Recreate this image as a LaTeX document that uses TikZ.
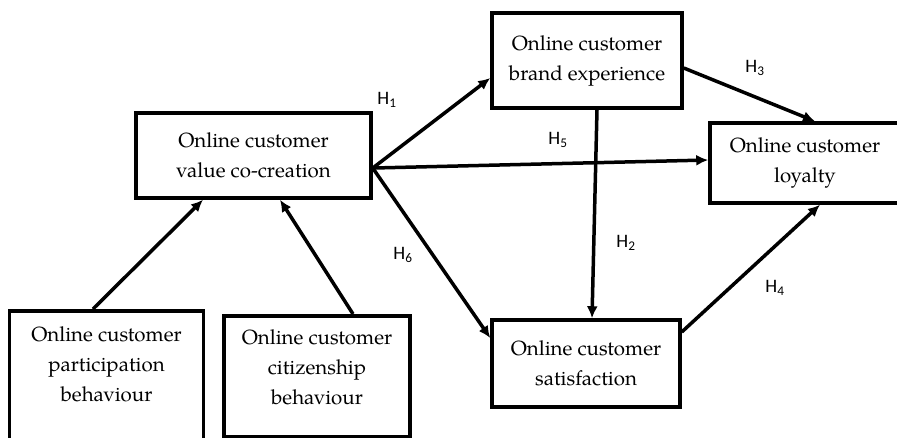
\documentclass[tikz,border=0pt]{standalone}
\usepackage{fontspec}
\newfontfamily\hfont{Carlito}
\newfontfamily\pfont{texgyrepagella-regular.otf}
\usepackage{tikz}
\usetikzlibrary{arrows.meta,calc,positioning}
\tikzset{
  box/.style={draw, line width=3.5pt, align=center, inner sep=4pt,
    font=\pfont\fontsize{20.5}{30}\selectfont},
  link/.style={line width=3.5pt, -{Latex[length=12pt,width=11pt]}},
  hyp/.style={font=\hfont\fontsize{19}{20}\selectfont, inner sep=0pt}
}

\begin{document}
\begin{tikzpicture}[x=1pt,y=-1pt]
\useasboundingbox (0,0) rectangle (897,437);
\clip (0,0) rectangle (897,437);
\node[box, minimum width=235pt, minimum height=85pt] (val) at (253.5,155.5) {Online customer\\value co-creation};
\node[box, minimum width=190pt, minimum height=95pt] (exp) at (587,60.5) {Online customer\\brand experience};
\node[box, minimum width=190pt, minimum height=80pt] (loy) at (805,163) {Online customer\\loyalty};
\node[box, minimum width=188pt, minimum height=87pt] (sat) at (586,363.5) {Online customer\\satisfaction};
\node[box, anchor=north, inner ysep=14pt] (cit) at (317,314) {\parbox[t][93pt][t]{178pt}{\centering Online customer\par citizenship\par behaviour}};
\node[box, anchor=north, inner ysep=16pt] (part) at (106.5,309) {\parbox[t][130pt][t]{186pt}{\centering Online customer\par participation\par behaviour}};
\draw[link] ([xshift=-13.5pt]part.north) -- ([xshift=-50.5pt]val.south);
\draw[link] ([xshift=36pt]cit.north) -- ([xshift=26.5pt]val.south);
\draw[link] (val.-6) -- ([yshift=-17.5pt]exp.west);
\draw[link] (val.-6) -- ([yshift=3pt]loy.west);
\draw[link] (val.-6) -- ([yshift=25.5pt]sat.west);
\draw[link] ([xshift=10pt]exp.south) -- ([xshift=6pt]sat.north);
\draw[link] ([yshift=-7.5pt]exp.east) -- ([xshift=10pt]loy.north);
\draw[link] ([yshift=31.5pt]sat.east) -- ([xshift=15pt]loy.south);
\node[hyp] (h1) at (387,100) {H\textsubscript{1}};
\node[hyp] (h2) at (626,243) {H\textsubscript{2}};
\node[hyp] (h3) at (755,68) {H\textsubscript{3}};
\node[hyp] (h4) at (775,288) {H\textsubscript{4}};
\node[hyp] (h5) at (558,140) {H\textsubscript{5}};
\node[hyp] (h6) at (403,255) {H\textsubscript{6}};
\end{tikzpicture}
\end{document}
